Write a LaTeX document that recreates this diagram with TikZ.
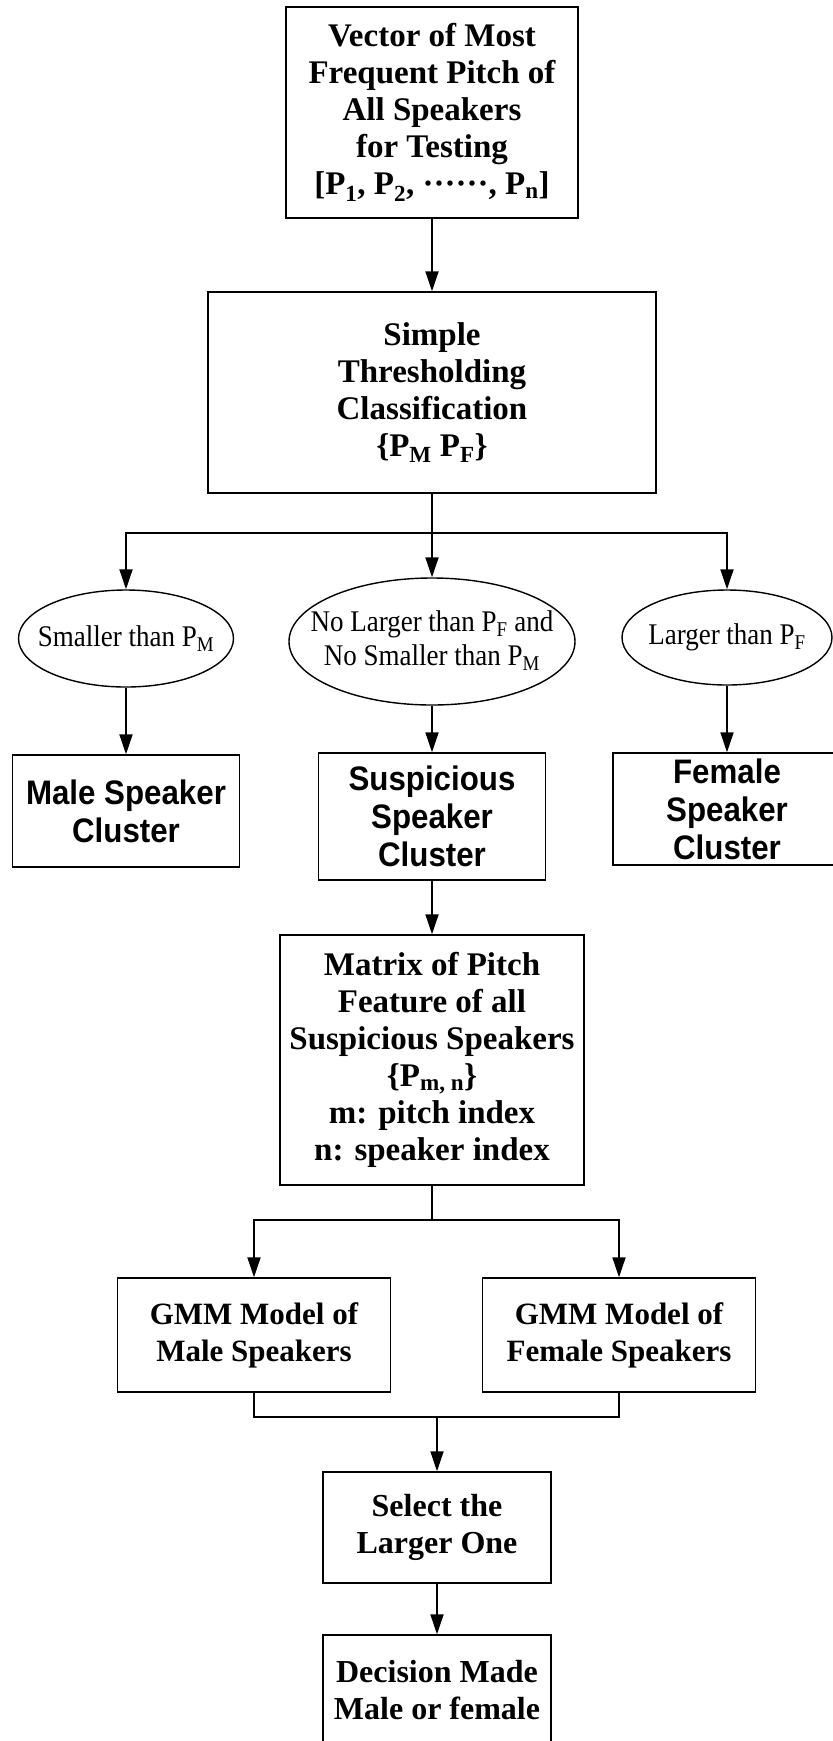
\documentclass[tikz,border=0pt]{standalone}
\usepackage{fontspec}
\setmainfont{Liberation Serif}
\newfontfamily\clusterfont{Liberation Sans}[FakeStretch=0.92]
\newfontfamily\condfont{Liberation Serif}[FakeStretch=0.9]
\usetikzlibrary{shapes.geometric, arrows.meta}

\begin{document}
\begin{tikzpicture}[x=1pt, y=-1pt,
        box/.style={draw, black, line width=1.4pt, inner sep=0pt, align=center, font=\bfseries\fontsize{33}{37}\selectfont},
        clusterbox/.style={box, font=\clusterfont\bfseries\fontsize{34}{38}\selectfont},
        cond/.style={draw, black, ellipse, line width=1.4pt, inner sep=0pt, font=\condfont\fontsize{30}{34}\selectfont},
        arr/.style={black, line width=1.8pt, -{Triangle[length=20pt, width=13pt]}},
        link/.style={black, line width=1.8pt}]
        \useasboundingbox (0,0) rectangle (833,1741);
        \clip (0,0) rectangle (833,1741);
        \node[box, minimum width=292pt, minimum height=211pt] (vec) at (432,112.5) {Vector of Most\\Frequent Pitch of\\All Speakers\\for Testing\\{[P\textsubscript{1}, P\textsubscript{2}, ······, P\textsubscript{n}]}};
        \node[box, minimum width=448pt, minimum height=201pt] (thresh) at (432,392.5) {Simple\\Thresholding\\Classification\\\{P\textsubscript{M} P\textsubscript{F}\}};
        \node[cond, minimum width=215pt, minimum height=97pt] (small) at (126,638.5) {\makebox[0pt]{Smaller than P\textsubscript{M}}};
        \node[cond, minimum width=286pt, minimum height=127pt] (between) at (432,641.5) {\makebox[0pt]{\begin{tabular}{@{}c@{}}No Larger than P\textsubscript{F} and\\No Smaller than P\textsubscript{M}\end{tabular}}};
        \node[cond, minimum width=210pt, minimum height=95pt] (larger) at (727,637.5) {\makebox[0pt]{Larger than P\textsubscript{F}}};
        \node[clusterbox, minimum width=227pt, minimum height=112pt] (male) at (126,811) {Male Speaker\\Cluster};
        \node[clusterbox, minimum width=227pt, minimum height=127pt] (susp) at (432,816.5) {Suspicious\\Speaker\\Cluster};
        \node[clusterbox, minimum width=228pt, minimum height=112pt] (female) at (727,809) {Female\\Speaker\\Cluster};
        \node[box, minimum width=304pt, minimum height=250pt] (matrix) at (432,1060) {Matrix of Pitch\\Feature of all\\Suspicious Speakers\\\{P\textsubscript{m, n}\}\\m: pitch index\\n: speaker index};
        \node[box, font=\bfseries\fontsize{31}{37}\selectfont, minimum width=273pt, minimum height=114pt] (gmmmale) at (254,1335) {GMM Model of\\Male Speakers};
        \node[box, font=\bfseries\fontsize{31}{37}\selectfont, minimum width=273pt, minimum height=114pt] (gmmfemale) at (619,1335) {GMM Model of\\Female Speakers};
        \node[box, font=\bfseries\fontsize{32}{37}\selectfont, minimum width=228pt, minimum height=111pt] (select) at (437,1527.5) {Select the\\Larger One};
        \node[box, font=\bfseries\fontsize{32}{37}\selectfont, minimum width=228pt, minimum height=111pt] (decision) at (437,1690.5) {Decision Made\\Male or female};
        \coordinate (fork) at (432,533);
        \coordinate (split) at (432,1220);
        \coordinate (merge) at (437,1417);
        \draw[arr] (vec.south) -- (thresh.north);
        \draw[link] (thresh.south) -- (fork);
        \draw[arr] (fork) -| (small.north);
        \draw[arr] (fork) -- (between.north);
        \draw[arr] (fork) -| (larger.north);
        \draw[arr] (small.south) -- (male.north);
        \draw[arr] (between.south) -- (susp.north);
        \draw[arr] (larger.south) -- (female.north);
        \draw[arr] (susp.south) -- (matrix.north);
        \draw[link] (matrix.south) -- (split);
        \draw[arr] (split) -| (gmmmale.north);
        \draw[arr] (split) -| (gmmfemale.north);
        \draw[link] (gmmmale.south) |- (merge) -| (gmmfemale.south);
        \draw[arr] (merge) -- (select.north);
        \draw[arr] (select.south) -- (decision.north);
    \end{tikzpicture}
\end{document}
